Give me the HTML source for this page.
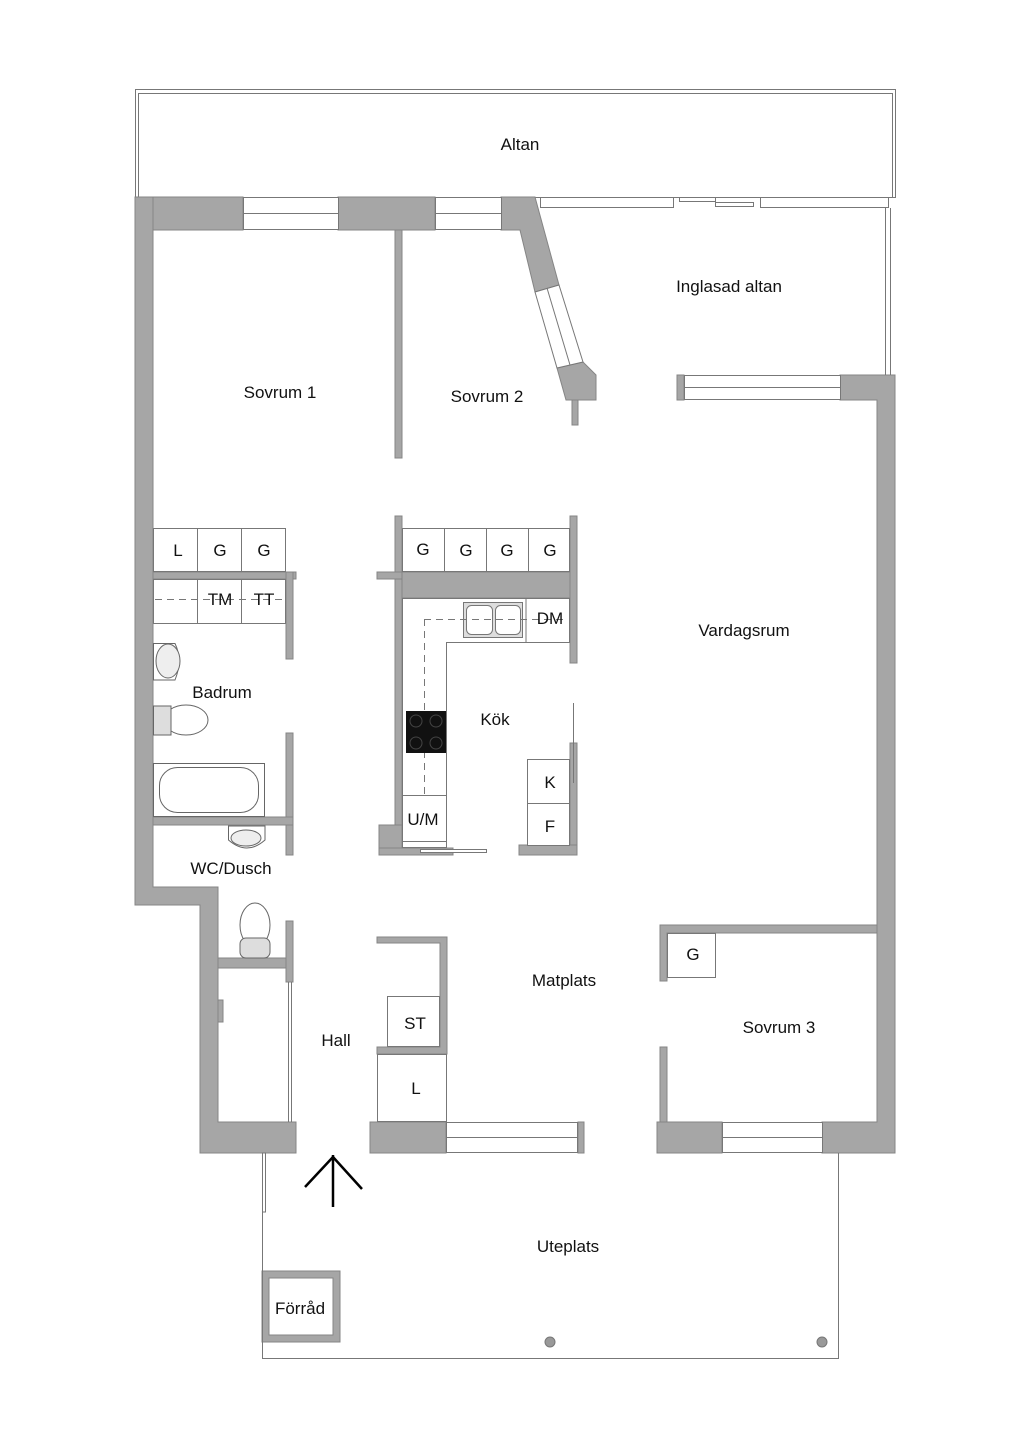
<!DOCTYPE html>
<html><head><meta charset="utf-8"><style>
html,body{margin:0;padding:0;background:#fff;}
svg{display:block;}
text{font-family:"Liberation Sans",sans-serif;fill:#111;}
</style></head><body>
<svg width="1024" height="1449" viewBox="0 0 1024 1449" xmlns="http://www.w3.org/2000/svg">
<g fill="none" stroke="#777" stroke-width="1">
<rect x="135.5" y="89.5" width="760" height="108"/>
<rect x="138.5" y="93.5" width="754" height="104"/>
</g>
<g fill="#a6a6a6" stroke="#858585" stroke-width="1">
<rect x="135" y="197" width="108" height="33"/>
<rect x="338" y="197" width="97" height="33"/>
<polygon points="501,197 535,197 559,285 535,292 520,230 501,230"/>
<polygon points="557,368 583,362 596,375 596,400 566,400"/>
<rect x="572" y="400" width="6" height="25"/>
<polygon points="135,197 153,197 153,887 218,887 218,1122 296,1122 296,1153 200,1153 200,905 135,905"/>
<polygon points="840,375 895,375 895,1153 822,1153 822,1122 877,1122 877,400 840,400"/>
<rect x="677" y="375" width="7" height="25"/>
<rect x="370" y="1122" width="76" height="31"/>
<rect x="578" y="1122" width="6" height="31"/>
<rect x="657" y="1122" width="65" height="31"/>
<rect x="395" y="230" width="7" height="228"/>
<rect x="153" y="572" width="143" height="7"/>
<rect x="286" y="572" width="7" height="87"/>
<rect x="286" y="733" width="7" height="122"/>
<rect x="153" y="817" width="140" height="8"/>
<rect x="218" y="958" width="75" height="10"/>
<rect x="286" y="921" width="7" height="61"/>
<rect x="218" y="1000" width="5" height="22"/>
<rect x="395" y="516" width="7" height="339"/>
<rect x="377" y="572" width="25" height="7"/>
<rect x="379" y="825" width="23" height="30"/>
<rect x="379" y="848" width="74" height="7"/>
<rect x="402" y="572" width="175" height="26"/>
<rect x="570" y="516" width="7" height="147"/>
<rect x="570" y="743" width="7" height="112"/>
<rect x="519" y="845" width="58" height="10"/>
<polygon points="377,937 447,937 447,1054 377,1054 377,1047 440,1047 440,943 377,943"/>
<polygon points="660,925 877,925 877,933 667,933 667,981 660,981"/>
<rect x="660" y="1047" width="7" height="75"/>
<path d="M262,1271 H340 V1342 H262 Z M269,1278 V1335 H333 V1278 Z" fill-rule="evenodd"/>
</g>
<g fill="#fff" stroke="#777" stroke-width="1">
<rect x="243.5" y="197.5" width="95" height="32"/><line x1="243" y1="213.5" x2="338" y2="213.5"/>
<rect x="435.5" y="197.5" width="66" height="32"/><line x1="435" y1="213.5" x2="501" y2="213.5"/>
<polygon points="535,292 559,285 583,362 557,368"/>
<line x1="547" y1="288" x2="570" y2="365"/>
<rect x="684.5" y="375.5" width="156" height="24"/><line x1="684" y1="387.5" x2="840" y2="387.5"/>
<rect x="446.5" y="1122.5" width="131" height="30"/><line x1="446" y1="1137.5" x2="578" y2="1137.5"/>
<rect x="722.5" y="1122.5" width="100" height="30"/><line x1="722" y1="1137.5" x2="822" y2="1137.5"/>
<rect x="540.5" y="197.5" width="133" height="10"/>
<rect x="679.5" y="197.5" width="36" height="4"/>
<rect x="715.5" y="202.5" width="38" height="4"/>
<rect x="760.5" y="197.5" width="128" height="10"/>
<line x1="885.5" y1="208" x2="885.5" y2="375"/><line x1="890.5" y1="208" x2="890.5" y2="375"/>
<rect x="153.5" y="528.5" width="44" height="43"/><rect x="197.5" y="528.5" width="44" height="43"/><rect x="241.5" y="528.5" width="44" height="43"/>
<rect x="153.5" y="579.5" width="44" height="44"/><rect x="197.5" y="579.5" width="44" height="44"/><rect x="241.5" y="579.5" width="44" height="44"/>
<rect x="402.5" y="528.5" width="42" height="43"/><rect x="444.5" y="528.5" width="42" height="43"/><rect x="486.5" y="528.5" width="42" height="43"/><rect x="528.5" y="528.5" width="41" height="43"/>
<polygon points="402.5,598.5 569.5,598.5 569.5,642.5 446.5,642.5 446.5,847.5 402.5,847.5"/>
<line x1="526" y1="598" x2="526" y2="642"/>
<line x1="402" y1="795.5" x2="446" y2="795.5"/>
<line x1="402" y1="841.5" x2="446" y2="841.5"/>
<rect x="463.5" y="602.5" width="59" height="35" fill="#ddd"/>
<rect x="466.5" y="605.5" width="26" height="29" rx="5"/><rect x="495.5" y="605.5" width="25" height="29" rx="5"/>
<rect x="527.5" y="759.5" width="42" height="44"/><rect x="527.5" y="803.5" width="42" height="42"/>
<line x1="573.5" y1="703" x2="573.5" y2="783"/>
<rect x="420.5" y="849.5" width="66" height="3"/>
<rect x="387.5" y="996.5" width="52" height="50"/>
<rect x="377.5" y="1054.5" width="69" height="67"/>
<rect x="667.5" y="933.5" width="48" height="44"/>
<line x1="288.5" y1="982" x2="288.5" y2="1122"/><line x1="291.5" y1="982" x2="291.5" y2="1122"/>
<polyline points="262.5,1153 262.5,1358.5 838.5,1358.5 838.5,1153" fill="none"/>
<rect x="262.5" y="1153" width="3" height="59"/>
</g>
<g stroke="#777" stroke-dasharray="7,5" fill="none">
<line x1="155" y1="599.5" x2="286" y2="599.5"/>
<line x1="424" y1="619.5" x2="568" y2="619.5"/>
<line x1="424.5" y1="619" x2="424.5" y2="795"/>
</g>
<rect x="406" y="711" width="40" height="42" fill="#111"/>
<circle cx="416" cy="721" r="6" fill="none" stroke="#444"/><circle cx="436" cy="721" r="6" fill="none" stroke="#444"/>
<circle cx="416" cy="743" r="6" fill="none" stroke="#444"/><circle cx="436" cy="743" r="6" fill="none" stroke="#444"/>
<g fill="#fff" stroke="#666" stroke-width="1">
<path d="M153.5,643.5 H175 Q183,660 175,680 H153.5 Z"/>
<ellipse cx="168" cy="661" rx="12" ry="17" fill="#eee"/>
<ellipse cx="186" cy="720" rx="22" ry="15"/>
<path d="M153.5,706 H171 V735 H153.5 Z" fill="#ddd"/>
<rect x="153.5" y="763.5" width="111" height="53"/>
<rect x="159.5" y="767.5" width="99" height="45" rx="18"/>
<path d="M228.5,826 H265 V840 Q247,856 228.5,840 Z"/>
<ellipse cx="246" cy="838" rx="15" ry="8" fill="#eee"/>
<ellipse cx="255" cy="925" rx="15" ry="22"/>
<rect x="240" y="938" width="30" height="20" rx="6" fill="#ddd"/>
</g>
<circle cx="550" cy="1342" r="5" fill="#999" stroke="#777"/>
<circle cx="822" cy="1342" r="5" fill="#999" stroke="#777"/>
<g stroke="#000" stroke-width="2.5" fill="none">
<line x1="333" y1="1155" x2="333" y2="1207"/>
<polyline points="305,1187 333,1157 362,1189"/>
</g>
<g font-size="17" text-anchor="middle">
<text x="520" y="150">Altan</text>
<text x="729" y="292">Inglasad altan</text>
<text x="280" y="398">Sovrum 1</text>
<text x="487" y="402">Sovrum 2</text>
<text x="744" y="636">Vardagsrum</text>
<text x="178" y="556">L</text><text x="220" y="556">G</text><text x="264" y="556">G</text>
<text x="220" y="605">TM</text><text x="264" y="605">TT</text>
<text x="423" y="555">G</text><text x="466" y="556">G</text><text x="507" y="556">G</text><text x="550" y="556">G</text>
<text x="550" y="624">DM</text>
<text x="222" y="698">Badrum</text>
<text x="495" y="725">Kök</text>
<text x="550" y="788">K</text><text x="550" y="832">F</text>
<text x="423" y="825">U/M</text>
<text x="231" y="874">WC/Dusch</text>
<text x="564" y="986">Matplats</text>
<text x="693" y="960">G</text>
<text x="779" y="1033">Sovrum 3</text>
<text x="415" y="1029">ST</text>
<text x="336" y="1046">Hall</text>
<text x="416" y="1094">L</text>
<text x="568" y="1252">Uteplats</text>
<text x="300" y="1314">Förråd</text>
</g>
</svg>
</body></html>
